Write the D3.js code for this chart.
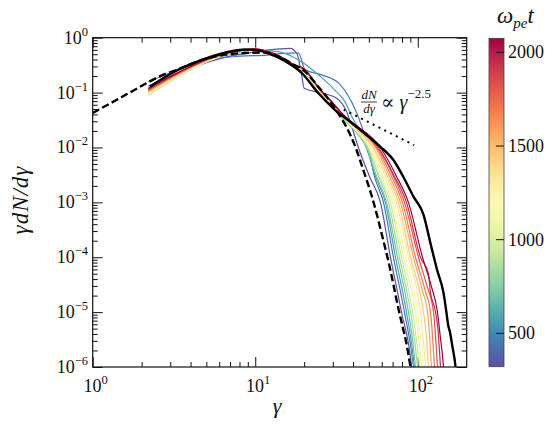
<!DOCTYPE html>
<html>
<head>
<meta charset="utf-8">
<script src="https://cdn.jsdelivr.net/npm/d3@7"></script>
<style>
  body { margin: 0; background: #fff; }
  text { font-family: "Liberation Serif", "DejaVu Serif", serif; fill: #111; }
</style>
</head>
<body>
<svg id="chart" width="552" height="425"></svg>
<script>
// omega_pe t of each coloured spectrum
var times = [325, 450, 575, 700, 825, 950, 1075, 1200, 1325, 1450, 1575, 1700, 1825, 1950, 2075];

// spectra: [gamma, gamma dN/dgamma]
var s325 = [[2.2,0.13],[3,0.2],[4,0.28],[5,0.35],[7,0.46],[10,0.55],[12.3,0.6],[16.4,0.64],[18,0.52],[19.3,0.21],[20,0.12],[25,0.1],[31.5,0.08],[36.5,0.045],[40,0.02],[43.1,0.01],[50.4,3e-3],[58.9,1e-3],[67.9,1e-4],[79.4,1e-5],[91.5,1e-6],[94,4e-7]];
var s450 = [[2.2,0.158],[3.13,0.24],[5.04,0.39],[8.1,0.46],[11.8,0.48],[14.9,0.52],[18.4,0.53],[20.3,0.26],[25.7,0.21],[32.5,0.15],[39.4,0.065],[45.3,0.024],[49.9,0.009],[54.1,3e-3],[61.5,1e-3],[70.8,1e-4],[82.8,1e-5],[94.1,1e-6],[97,4e-7]];
var s575 = [[2.2,0.1],[3,0.17],[5,0.37],[7,0.5],[10,0.6],[14,0.55],[17,0.45],[20,0.34],[25,0.2],[31,0.11],[36,0.065],[39.4,0.036],[44,0.02],[48.3,0.01],[54.9,3e-3],[63.2,1e-3],[72.9,1e-4],[85.2,1e-5],[95.4,1e-6],[98,4e-7]];
var s700 = [[2.2,0.094],[3,0.165],[5,0.36],[7,0.51],[10,0.61],[12,0.55],[14,0.45],[17,0.31],[20,0.24],[25,0.1],[30,0.056],[35,0.032],[40,0.022],[48.3,0.01],[55.7,3e-3],[64.2,1e-3],[75,1e-4],[87.6,1e-5],[96.8,1e-6],[99,4e-7]];
var s825 = [[2.2,0.09],[3,0.16],[5,0.362],[7,0.513],[10,0.612],[12,0.552],[14,0.452],[17,0.312],[20,0.243],[25,0.101],[30,0.057],[35,0.033],[40,0.0225],[49,0.01],[57.3,3e-3],[66,1e-3],[77.1,1e-4],[90.2,1e-5],[99.6,1e-6],[102,4e-7]];
var s950 = [[2.2,0.091],[3,0.162],[5,0.366],[7,0.516],[10,0.613],[12,0.553],[14,0.454],[17,0.314],[20,0.245],[25,0.103],[30,0.058],[35,0.0335],[40,0.023],[49.7,0.01],[58.1,3e-3],[67.9,1e-3],[79.4,1e-4],[92.8,1e-5],[102.4,1e-6],[105,4e-7]];
var s1075 = [[2.2,0.093],[3,0.165],[5,0.37],[7,0.519],[10,0.614],[12,0.554],[14,0.456],[17,0.316],[20,0.248],[25,0.104],[30,0.059],[35,0.034],[40,0.0235],[50.4,0.01],[59.7,3e-3],[69.9,1e-3],[81.6,1e-4],[96.8,1e-5],[105.4,1e-6],[108,4e-7]];
var s1200 = [[2.2,0.096],[3,0.168],[5,0.373],[7,0.522],[10,0.615],[12,0.555],[14,0.458],[17,0.318],[20,0.251],[25,0.105],[30,0.06],[35,0.035],[40,0.024],[51.1,0.01],[61.5,3e-3],[71.8,1e-3],[84,1e-4],[99.6,1e-5],[108.4,1e-6],[111,4e-7]];
var s1325 = [[2.2,0.099],[3,0.172],[5,0.377],[7,0.525],[10,0.616],[12,0.556],[14,0.46],[17,0.32],[20,0.254],[25,0.107],[30,0.061],[35,0.0355],[40,0.0245],[52.6,0.01],[63.2,3e-3],[73.9,1e-3],[87.6,1e-4],[103.9,1e-5],[111.5,1e-6],[114,4e-7]];
var s1450 = [[2.2,0.102],[3,0.176],[5,0.38],[7,0.528],[10,0.617],[12,0.557],[14,0.462],[17,0.322],[20,0.257],[25,0.108],[30,0.062],[35,0.036],[40,0.025],[53.3,0.01],[65.1,3e-3],[76,1e-3],[90.2,1e-4],[102,2.6e-5],[108.4,1e-5],[113,3.5e-6],[116.4,1e-6],[119,4e-7]];
var s1575 = [[2.2,0.105],[3,0.18],[5,0.384],[7,0.531],[10,0.618],[12,0.558],[14,0.464],[17,0.324],[20,0.26],[25,0.11],[30,0.063],[35,0.037],[40,0.026],[54.9,0.01],[66.9,3e-3],[78.2,1e-3],[94.1,1e-4],[107,2.4e-5],[114.8,1e-5],[118,4e-6],[121.5,1e-6],[124,4e-7]];
var s1700 = [[2.2,0.108],[3,0.184],[5,0.388],[7,0.534],[10,0.619],[12,0.559],[14,0.466],[17,0.326],[20,0.263],[25,0.111],[30,0.064],[35,0.0375],[40,0.0265],[55.7,0.01],[68.9,3e-3],[80.5,1e-3],[96.8,1e-4],[111,2.5e-5],[119.7,1e-5],[123,4e-6],[126.7,1e-6],[130,4e-7]];
var s1825 = [[2.2,0.111],[3,0.188],[5,0.392],[7,0.537],[10,0.62],[12,0.56],[14,0.468],[17,0.328],[20,0.266],[25,0.113],[30,0.064],[35,0.038],[40,0.027],[56.5,0.01],[70.8,3e-3],[82.8,1e-3],[101,1e-4],[114,3e-5],[125,1e-5],[128,4.5e-6],[132.2,1e-6],[135,4e-7]];
var s1950 = [[2.2,0.115],[3,0.192],[5,0.396],[7,0.54],[10,0.62],[12,0.56],[14,0.469],[17,0.329],[20,0.268],[25,0.114],[30,0.065],[35,0.0385],[40,0.0275],[57.3,0.01],[71.8,3e-3],[85.2,1e-3],[103.9,1e-4],[116.4,5e-5],[119,2.6e-5],[128.6,1e-5],[133,5e-6],[138,1e-6],[141,4e-7]];
var s2075 = [[2.2,0.119],[3,0.196],[5,0.4],[7,0.543],[10,0.621],[12,0.561],[14,0.47],[17,0.33],[20,0.27],[25,0.115],[30,0.065],[35,0.039],[40,0.028],[58.9,0.01],[73.9,3e-3],[87.6,1e-3],[106.9,1e-4],[121,3e-5],[132.2,1e-5],[137,4e-6],[144,1e-6],[147,4e-7]];

var spectra = [s325, s450, s575, s700, s825, s950, s1075, s1200, s1325, s1450, s1575, s1700, s1825, s1950, s2075];

// thick black solid spectrum
var blackSpec = [[2.25,0.128],[3,0.218],[4,0.33],[5,0.42],[7,0.56],[8.7,0.61],[10,0.6],[12,0.52],[14.9,0.39],[19.4,0.225],[24.5,0.097],[31,0.048],[39.4,0.0276],[49.9,0.0157],[58.9,0.0103],[70.8,0.0059],[81.6,0.0029],[94.1,0.00127],[108.4,6e-4],[119.7,1.8e-4],[131.4,5.9e-5],[144,2.24e-5],[150,1e-5],[154.5,5.4e-6],[157,4.6e-6],[163.4,2.35e-6],[170.8,1e-6],[175,4e-7]];
// dashed black spectrum
var dashSpec = [[1,0.0425],[1.5,0.082],[2.25,0.16],[2.6,0.2],[3.3,0.26],[5.04,0.42],[8.09,0.52],[11.5,0.537],[14,0.45],[17,0.33],[20.3,0.24],[23.95,0.137],[27,0.09],[30.4,0.0554],[36.7,0.0224],[41.3,0.0103],[45.6,0.0044],[53.6,9.75e-4],[60.6,2.37e-4],[66.3,7.9e-5],[76.3,1.1e-5],[86.6,2.05e-6],[90.2,1e-6],[92.8,5.9e-7]];
// power law guide, dN/dgamma ~ gamma^-2.5
var powerLaw = [[35,0.049],[95,0.011]];

var xMajor = [1, 10, 100];
var xMajorExp = ["0", "1", "2"];
var yMajor = [1, 1e-1, 1e-2, 1e-3, 1e-4, 1e-5, 1e-6];
var yMajorExp = ["0", "\u22121", "\u22122", "\u22123", "\u22124", "\u22125", "\u22126"];
var cbTicks = [500, 1000, 1500, 2000];
var cbDomain = [322, 2075];

function drawChart() {
    var pL = 92.7, pR = 466.7, pT = 37.7, pB = 367;

    var svg = d3.select("#chart");

    var x = d3.scaleLog().domain([1, 200]).range([pL, pR]);
    var y = d3.scaleLog().domain([1e-6, 1]).range([pB, pT]);

    var xMinor = [], yMinor = [];
    [1, 10, 100].forEach(function (b) {
        for (var i = 2; i <= 9; i++) if (b * i < 200) xMinor.push(b * i);
    });
    [1e-6, 1e-5, 1e-4, 1e-3, 1e-2, 1e-1].forEach(function (b) {
        for (var i = 2; i <= 9; i++) yMinor.push(b * i);
    });

    function tickAxis(gen, vals, len, tr) {
        var g = svg.append("g").attr("transform", tr)
            .call(gen.tickValues(vals).tickSize(-len).tickFormat(""));
        g.select(".domain").remove();
        g.selectAll("line").attr("stroke", "#111").attr("stroke-width", 1);
    }
    tickAxis(d3.axisBottom(x), xMajor, 10, "translate(0," + pB + ")");
    tickAxis(d3.axisBottom(x), xMinor, 5, "translate(0," + pB + ")");
    tickAxis(d3.axisTop(x), xMajor, 10, "translate(0," + pT + ")");
    tickAxis(d3.axisTop(x), xMinor, 5, "translate(0," + pT + ")");
    tickAxis(d3.axisLeft(y), yMajor, 10, "translate(" + pL + ",0)");
    tickAxis(d3.axisLeft(y), yMinor, 5, "translate(" + pL + ",0)");
    tickAxis(d3.axisRight(y), yMajor, 10, "translate(" + pR + ",0)");
    tickAxis(d3.axisRight(y), yMinor, 5, "translate(" + pR + ",0)");

    svg.append("clipPath").attr("id", "clip").append("rect")
        .attr("x", pL).attr("y", pT).attr("width", pR - pL).attr("height", pB - pT);

    var line = d3.line()
        .x(function (d) { return x(d[0]); })
        .y(function (d) { return y(d[1]); })
        .curve(d3.curveMonotoneX);

    var norm = d3.scaleLinear().domain(cbDomain).range([1, 0]);
    var plot = svg.append("g").attr("clip-path", "url(#clip)");

    plot.selectAll(".spec")
        .data(spectra)
        .enter()
        .append("path")
        .attr("class", "spec")
        .attr("fill", "none")
        .attr("stroke-width", 1.2)
        .attr("stroke", function (d, i) { return d3.interpolateSpectral(norm(times[i])); })
        .attr("d", line);

    plot.append("path").datum(dashSpec)
        .attr("fill", "none").attr("stroke", "#000").attr("stroke-width", 2.4)
        .attr("stroke-dasharray", "7.4,3.4")
        .attr("d", line);

    plot.append("path").datum(blackSpec)
        .attr("fill", "none").attr("stroke", "#000").attr("stroke-width", 2.4)
        .attr("d", line);

    plot.append("path").datum(powerLaw)
        .attr("fill", "none").attr("stroke", "#000").attr("stroke-width", 2)
        .attr("stroke-dasharray", "2,4.5")
        .attr("d", d3.line().x(function (d) { return x(d[0]); }).y(function (d) { return y(d[1]); }));

    // frame
    svg.append("rect")
        .attr("x", pL).attr("y", pT).attr("width", pR - pL).attr("height", pB - pT)
        .attr("fill", "none").attr("stroke", "#111").attr("stroke-width", 1.2);

    // tick labels
    function powLabel(sel, exp) {
        sel.append("tspan").text("10");
        sel.append("tspan").attr("dy", -8).style("font-size", "12.5px").text(exp);
    }
    xMajor.forEach(function (v, i) {
        var t = svg.append("text").attr("x", x(v) + 3).attr("y", 392)
            .attr("text-anchor", "middle").style("font-size", "18px");
        powLabel(t, xMajorExp[i]);
    });
    yMajor.forEach(function (v, i) {
        var t = svg.append("text").attr("x", 88).attr("y", y(v) + 6)
            .attr("text-anchor", "end").style("font-size", "18px");
        powLabel(t, yMajorExp[i]);
    });

    // axis titles
    svg.append("text").attr("x", 277).attr("y", 413).attr("text-anchor", "middle")
        .style("font-size", "22px").style("font-style", "italic").text("\u03b3");
    svg.append("text").attr("transform", "translate(28,200) rotate(-90)")
        .attr("text-anchor", "middle").style("font-size", "23px").style("font-style", "italic")
        .style("letter-spacing", "1px")
        .text("\u03b3dN/d\u03b3");

    // power law annotation
    var ann = svg.append("g").style("font-style", "italic");
    ann.append("text").attr("x", 369).attr("y", 99).attr("text-anchor", "middle")
        .style("font-size", "13px").text("dN");
    ann.append("line").attr("x1", 361).attr("x2", 377).attr("y1", 102).attr("y2", 102)
        .attr("stroke", "#111").attr("stroke-width", 0.8);
    ann.append("text").attr("x", 369).attr("y", 113).attr("text-anchor", "middle")
        .style("font-size", "13px").text("d\u03b3");
    var pl = svg.append("text").attr("x", 381).attr("y", 109).style("font-size", "20px");
    pl.append("tspan").text("\u221d ");
    pl.append("tspan").style("font-style", "italic").text("\u03b3");
    pl.append("tspan").attr("dy", -11).style("font-size", "13px").text("\u22122.5");

    // colorbar
    var cbL = 489, cbW = 15, cbT = 38.3, cbB = 366.7;
    var c = d3.scaleLinear().domain(cbDomain).range([cbB, cbT]);
    var grad = svg.append("defs").append("linearGradient").attr("id", "cbgrad")
        .attr("x1", 0).attr("x2", 0).attr("y1", 0).attr("y2", 1);
    d3.range(0, 1.0001, 0.05).forEach(function (o) {
        grad.append("stop").attr("offset", o).attr("stop-color", d3.interpolateSpectral(o));
    });
    svg.append("rect").attr("x", cbL).attr("y", cbT).attr("width", cbW).attr("height", cbB - cbT)
        .attr("fill", "url(#cbgrad)").attr("stroke", "#444").attr("stroke-width", 0.8);
    cbTicks.forEach(function (v) {
        svg.append("line").attr("x1", cbL + cbW - 8).attr("x2", cbL + cbW)
            .attr("y1", c(v)).attr("y2", c(v)).attr("stroke", "#111").attr("stroke-width", 1);
        svg.append("text").attr("x", cbL + cbW + 4).attr("y", c(v) + 6)
            .style("font-size", "18px").text(v);
    });
    var cbt = svg.append("text").attr("x", 497).attr("y", 23).style("font-size", "23px").style("font-style", "italic");
    cbt.append("tspan").text("\u03c9");
    cbt.append("tspan").attr("dy", 5).style("font-size", "15px").text("pe");
    cbt.append("tspan").attr("dy", -5).text("t");
}

drawChart();
</script>
</body>
</html>
